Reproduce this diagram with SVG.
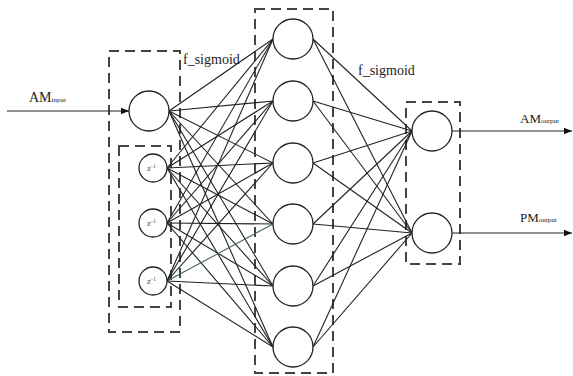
<svg xmlns="http://www.w3.org/2000/svg" width="573" height="376" viewBox="0 0 573 376">
<defs>
<marker id="arr" viewBox="0 0 10 10" refX="10" refY="5" markerWidth="8" markerHeight="8" markerUnits="userSpaceOnUse" orient="auto">
<path d="M0,1 L10,5 L0,9 z" fill="#111"/>
</marker>
</defs>
<style>
.n{fill:#fff;stroke:#222;stroke-width:1.3}
.box{fill:none;stroke:#444;stroke-width:2;stroke-dasharray:10 6}
.c line{stroke:#222;stroke-width:1.1}
.lbl{font-family:"Liberation Serif",serif;fill:#222}
.z{font-family:"Liberation Serif",serif;font-size:9px;fill:#555}
</style>
<rect width="573" height="376" fill="#fff"/>
<g id="boxes">
<rect class="box" x="109" y="51" width="71" height="281"/>
<rect class="box" x="119" y="146" width="52" height="161"/>
<rect class="box" x="255" y="9" width="78" height="364"/>
<rect class="box" x="406" y="102" width="54" height="162"/>
</g>
<g id="connectors" class="c">
<line x1="7" y1="111" x2="129" y2="111" marker-end="url(#arr)" stroke-width="1.5"/>
<line x1="169" y1="111" x2="273" y2="39"/>
<line x1="169" y1="111" x2="273" y2="101"/>
<line x1="169" y1="111" x2="273" y2="163"/>
<line x1="169" y1="111" x2="273" y2="224"/>
<line x1="169" y1="111" x2="273" y2="286"/>
<line x1="169" y1="111" x2="273" y2="347"/>
<line x1="167" y1="168" x2="273" y2="39"/>
<line x1="167" y1="168" x2="273" y2="101"/>
<line x1="167" y1="168" x2="273" y2="163"/>
<line x1="167" y1="168" x2="273" y2="224"/>
<line x1="167" y1="168" x2="273" y2="286"/>
<line x1="167" y1="168" x2="273" y2="347"/>
<line x1="167" y1="223" x2="273" y2="39"/>
<line x1="167" y1="223" x2="273" y2="101"/>
<line x1="167" y1="223" x2="273" y2="163"/>
<line x1="167" y1="223" x2="273" y2="224"/>
<line x1="167" y1="223" x2="273" y2="286"/>
<line x1="167" y1="223" x2="273" y2="347"/>
<line x1="167" y1="281" x2="273" y2="39"/>
<line x1="167" y1="281" x2="273" y2="101"/>
<line x1="167" y1="281" x2="273" y2="163"/>
<line x1="167" y1="281" x2="273" y2="224" style="stroke:#3d6b4a"/>
<line x1="167" y1="281" x2="273" y2="286"/>
<line x1="167" y1="281" x2="273" y2="347"/>
<line x1="313" y1="39" x2="412" y2="131"/>
<line x1="313" y1="101" x2="412" y2="131"/>
<line x1="313" y1="163" x2="412" y2="131"/>
<line x1="313" y1="224" x2="412" y2="131"/>
<line x1="313" y1="286" x2="412" y2="131"/>
<line x1="313" y1="347" x2="412" y2="131"/>
<line x1="313" y1="39" x2="412" y2="233"/>
<line x1="313" y1="101" x2="412" y2="233"/>
<line x1="313" y1="163" x2="412" y2="233"/>
<line x1="313" y1="224" x2="412" y2="233"/>
<line x1="313" y1="286" x2="412" y2="233"/>
<line x1="313" y1="347" x2="412" y2="233"/>
<line x1="452" y1="131" x2="572" y2="131" marker-end="url(#arr)" stroke-width="1.5"/>
<line x1="452" y1="233" x2="572" y2="233" marker-end="url(#arr)" stroke-width="1.5"/>
</g>
<g id="in"><circle class="n" cx="149" cy="111" r="20"/></g>
<g id="z1"><circle class="n" cx="153" cy="168" r="14"/><text class="z" x="147" y="171">z<tspan font-size="6" dy="-3">-1</tspan></text></g>
<g id="z2"><circle class="n" cx="153" cy="223" r="14"/><text class="z" x="147" y="226">z<tspan font-size="6" dy="-3">-1</tspan></text></g>
<g id="z3"><circle class="n" cx="153" cy="281" r="14"/><text class="z" x="147" y="284">z<tspan font-size="6" dy="-3">-1</tspan></text></g>
<g id="h1"><circle class="n" cx="293" cy="39" r="20"/></g>
<g id="h2"><circle class="n" cx="293" cy="101" r="20"/></g>
<g id="h3"><circle class="n" cx="293" cy="163" r="20"/></g>
<g id="h4"><circle class="n" cx="293" cy="224" r="20"/></g>
<g id="h5"><circle class="n" cx="293" cy="286" r="20"/></g>
<g id="h6"><circle class="n" cx="293" cy="347" r="20"/></g>
<g id="o1"><circle class="n" cx="432" cy="131" r="20"/></g>
<g id="o2"><circle class="n" cx="432" cy="233" r="20"/></g>
<g id="labels">
<text class="lbl" x="29" y="102" font-size="14">AM<tspan font-size="7">input</tspan></text>
<text class="lbl" x="183" y="64" font-size="14">f_sigmoid</text>
<text class="lbl" x="358" y="75" font-size="14">f_sigmoid</text>
<text class="lbl" x="520" y="123" font-size="13">AM<tspan font-size="7">output</tspan></text>
<text class="lbl" x="520" y="222" font-size="13">PM<tspan font-size="7">output</tspan></text>
</g>
</svg>
